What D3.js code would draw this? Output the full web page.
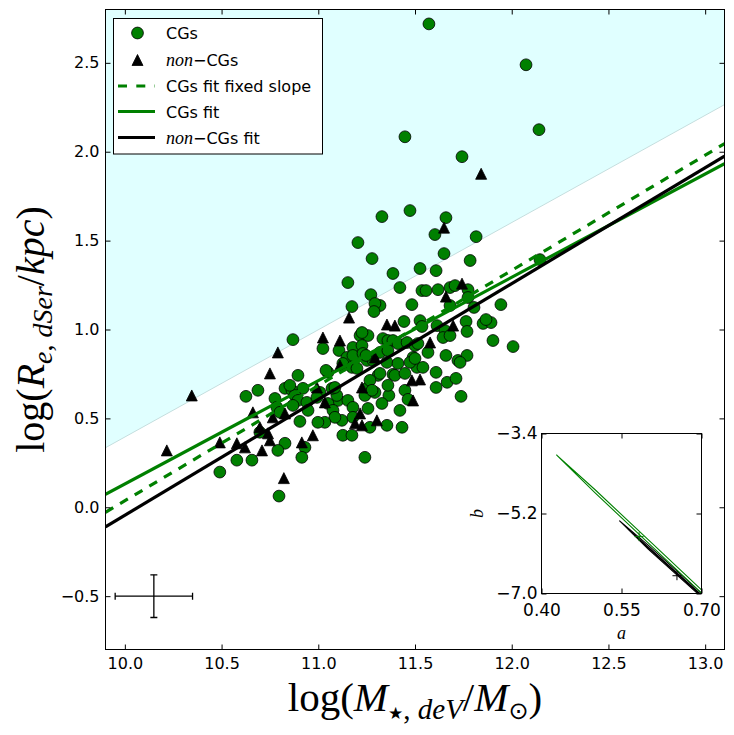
<!DOCTYPE html>
<html><head><meta charset="utf-8">
<script src="https://cdn.jsdelivr.net/npm/d3@7"></script>
<style>body{margin:0;background:#fff}</style>
</head><body>
<svg id="c" width="734" height="735" xmlns="http://www.w3.org/2000/svg"></svg>
<script>
// ---------------- data ----------------
const cgPoints = [
[11.572,2.719],[12.074,2.489],[12.141,2.124],[11.448,2.084],[11.743,1.972],
[11.474,1.669],[11.329,1.635],[11.660,1.629],[11.603,1.534],[11.816,1.522],
[11.205,1.489],[11.650,1.427],[11.278,1.399],[11.785,1.388],[11.386,1.315],
[11.526,1.343],[11.609,1.331],[11.153,1.264],[11.422,1.236],[11.536,1.219],
[11.557,1.219],[11.619,1.224],[11.681,1.236],[11.707,1.247],[11.774,1.224],
[11.774,1.180],[11.681,1.135],[11.805,1.124],[11.944,1.140],[11.484,1.140],
[11.319,1.135],[11.272,1.196],[11.293,1.146],[11.288,1.101],[11.174,1.129],
[11.443,1.045],[11.526,1.050],[11.536,1.017],[11.614,1.022],[11.655,0.994],
[11.764,1.045],[11.769,0.989],[11.852,1.034],[11.893,1.039],[11.867,1.056],
[11.903,0.938],[12.007,0.904],[12.146,1.393],[11.216,0.966],[11.257,0.966],
[11.226,0.983],[11.334,0.949],[11.360,0.938],[11.386,0.938],[11.412,0.921],
[11.459,0.927],[11.500,0.910],[11.515,0.921],[11.567,0.871],[11.645,0.955],
[11.681,0.966],[11.660,0.854],[11.722,0.826],[11.769,0.854],[11.733,0.815],
[11.490,0.843],[11.510,0.787],[11.541,0.787],[11.609,0.759],[11.666,0.703],
[11.712,0.725],[11.609,0.674],[11.738,0.624],[11.386,0.748],[11.309,0.742],
[11.396,0.742],[11.448,0.753],[11.448,0.658],[11.464,0.607],[11.422,0.545],
[11.241,0.629],[11.257,0.674],[11.257,0.556],[11.365,0.629],[11.329,0.584],
[11.360,0.686],[11.293,0.646],[11.267,0.714],[11.278,0.658],[11.319,0.753],
[11.319,0.871],[11.360,0.882],[11.355,0.815],[11.412,0.809],[11.474,0.815],
[11.500,0.837],[11.024,0.893],[11.107,0.882],[11.179,0.899],[11.226,0.910],
[11.148,0.843],[11.179,0.854],[11.231,0.865],[11.252,0.826],[11.127,0.809],
[11.174,0.787],[11.050,0.759],[11.200,0.781],[11.283,0.826],[11.247,0.854],
[10.869,0.943],[10.895,0.742],[11.040,0.770],[10.688,0.658],[10.626,0.624],
[10.828,0.669],[10.864,0.658],[10.921,0.669],[10.776,0.612],[10.879,0.629],
[10.895,0.601],[10.941,0.590],[10.786,0.562],[10.869,0.573],[11.102,0.601],
[11.096,0.629],[11.071,0.669],[11.086,0.674],[11.009,0.646],[11.050,0.584],
[11.153,0.601],[11.179,0.562],[11.076,0.545],[11.122,0.489],[11.086,0.506],
[11.034,0.478],[11.179,0.506],[11.267,0.450],[11.355,0.461],[11.433,0.450],
[11.127,0.405],[11.174,0.405],[10.931,0.337],[10.915,0.281],[11.241,0.281],
[10.905,0.483],[10.998,0.478],[10.698,0.422],[10.828,0.360],[10.791,0.320],
[10.579,0.265],[10.657,0.265],[10.491,0.198],[10.797,0.063],
[10.993,0.618],[10.802,0.534],[10.947,0.545],[10.853,0.686]
];
const nonCgPoints = [
[11.842,1.876],[11.650,1.573],[11.743,1.258],[11.660,1.185],[11.697,1.022],
[11.355,1.028],[11.396,1.022],[11.159,1.067],[11.024,0.955],[11.112,0.938],
[11.578,0.927],[11.293,0.843],[11.112,0.798],[11.526,0.719],[11.484,0.714],
[11.490,0.601],[11.226,0.674],[10.993,0.674],[11.034,0.590],[11.216,0.528],
[11.190,0.472],[11.226,0.461],[11.303,0.489],[10.972,0.405],[10.791,0.871],
[10.750,0.753],[10.346,0.629],[10.662,0.534],[10.217,0.320],[10.491,0.365],
[10.579,0.360],[10.621,0.337],[10.709,0.320],[10.750,0.377],[10.915,0.365],
[10.822,0.164],[10.698,0.450],[10.828,0.528],[10.765,0.506],[10.740,0.416]
];
const xDomain = [9.9, 13.1];
const yDomain = [-0.8, 2.8];
const xTicks = [10.0, 10.5, 11.0, 11.5, 12.0, 12.5, 13.0];
const yTicks = [-0.5, 0.0, 0.5, 1.0, 1.5, 2.0, 2.5];
const shadeLine = [[9.9, 0.335], [13.1, 2.265]];
const cgFit = [[9.9, 0.073], [13.1, 1.933]];
const cgFitFixed = [[9.9, -0.028], [13.1, 2.045]];
const nonCgFit = [[9.9, -0.110], [13.1, 1.975]];
const typicalError = {x: 10.15, y: -0.5, dx: 0.2, dy: 0.12};
const legendLabels = ["CGs", "non−CGs", "CGs fit fixed slope", "CGs fit", "non−CGs fit"];
// inset (a, b) posterior
const insetXDomain = [0.40, 0.70];
const insetYDomain = [-7.0, -3.4];
const insetXTicks = [0.40, 0.55, 0.70];
const insetYTicks = [-3.4, -5.2, -7.0];
const greenContour = [[0.428,-3.88],[0.50,-4.66],[0.60,-5.79],[0.70,-6.92],[0.73,-7.26],[0.70,-6.99],[0.60,-5.86],[0.50,-4.73],[0.428,-3.88]];
const blackOuter = [[0.546,-5.36],[0.60,-5.91],[0.65,-6.45],[0.70,-6.99],[0.74,-7.42],[0.70,-7.08],[0.65,-6.54],[0.60,-6.00],[0.546,-5.36]];
const blackInner = [[0.562,-5.54],[0.60,-5.95],[0.65,-6.49],[0.70,-7.03],[0.72,-7.25],[0.70,-7.06],[0.65,-6.52],[0.60,-5.98],[0.562,-5.54]];
const bestFitMarks = [{a:0.583, b:-5.72, c:"#007a00"}, {a:0.654, b:-6.60, c:"#000"}];

// ---------------- drawing ----------------
const svg = d3.select("#c");
const L = 105.5, R = 724.5, T = 9.5, B = 649.5;
const x = d3.scaleLinear().domain(xDomain).range([L, R]);
const y = d3.scaleLinear().domain(yDomain).range([B, T]);
const GREEN = "#008000";
const sans = "DejaVu Sans, Bitstream Vera Sans, sans-serif";
const serif = "Liberation Serif, Times New Roman, serif";

svg.append("rect").attr("width",734).attr("height",735).attr("fill","#fff");
svg.append("defs").append("clipPath").attr("id","clip")
  .append("rect").attr("x",L).attr("y",T).attr("width",R-L).attr("height",B-T);

const plot = svg.append("g").attr("clip-path","url(#clip)");

// shaded region
const area = d3.area().x(d=>x(d[0])).y0(y(yDomain[1])).y1(d=>y(d[1]));
plot.append("path").datum(shadeLine).attr("d",area).attr("fill","#e0ffff");
plot.append("path").datum(shadeLine).attr("d",d3.line().x(d=>x(d[0])).y(d=>y(d[1])))
  .attr("stroke","#c4dede").attr("stroke-width",1).attr("fill","none");

// error bar
const eb = plot.append("g").attr("stroke","#000").attr("stroke-width",1.3);
const e = typicalError, cap = 3.5;
eb.append("line").attr("x1",x(e.x-e.dx)).attr("x2",x(e.x+e.dx)).attr("y1",y(e.y)).attr("y2",y(e.y));
eb.append("line").attr("x1",x(e.x)).attr("x2",x(e.x)).attr("y1",y(e.y-e.dy)).attr("y2",y(e.y+e.dy));
eb.append("line").attr("x1",x(e.x-e.dx)).attr("x2",x(e.x-e.dx)).attr("y1",y(e.y)-cap).attr("y2",y(e.y)+cap);
eb.append("line").attr("x1",x(e.x+e.dx)).attr("x2",x(e.x+e.dx)).attr("y1",y(e.y)-cap).attr("y2",y(e.y)+cap);
eb.append("line").attr("x1",x(e.x)-cap).attr("x2",x(e.x)+cap).attr("y1",y(e.y-e.dy)).attr("y2",y(e.y-e.dy));
eb.append("line").attr("x1",x(e.x)-cap).attr("x2",x(e.x)+cap).attr("y1",y(e.y+e.dy)).attr("y2",y(e.y+e.dy));

// markers
const triPath = h => `M0,${-h}L${h},${h}L${-h},${h}Z`;
plot.append("g").selectAll("circle").data(cgPoints).join("circle")
  .attr("cx",d=>x(d[0])).attr("cy",d=>y(d[1])).attr("r",5.9)
  .attr("fill",GREEN).attr("stroke","#000").attr("stroke-width",0.8);
plot.append("g").selectAll("path").data(nonCgPoints).join("path")
  .attr("transform",d=>`translate(${x(d[0])},${y(d[1])})`).attr("d",triPath(5.5))
  .attr("fill","#000").attr("stroke","#000").attr("stroke-width",0.8);

// fit lines
const line = d3.line().x(d=>x(d[0])).y(d=>y(d[1]));
plot.append("path").datum(cgFitFixed).attr("d",line).attr("stroke",GREEN).attr("stroke-width",3.2)
  .attr("stroke-dasharray","9,8").attr("fill","none");
plot.append("path").datum(cgFit).attr("d",line).attr("stroke",GREEN).attr("stroke-width",3.2).attr("fill","none");
plot.append("path").datum(nonCgFit).attr("d",line).attr("stroke","#000").attr("stroke-width",3.2).attr("fill","none");

// axes
function styleAxis(size){
  return g => {
    g.select(".domain").remove();
    g.selectAll(".tick line").attr("stroke","#000").attr("stroke-width",1);
    g.selectAll(".tick text").attr("font-family",sans).attr("font-size",size).attr("fill","#000");
  };
}
const fmt1 = d3.format(".1f");
svg.append("g").attr("transform",`translate(0,${B})`)
  .call(d3.axisBottom(x).tickValues(xTicks).tickFormat(fmt1).tickSizeInner(-5).tickSizeOuter(0).tickPadding(8)).call(styleAxis(16));
svg.append("g").attr("transform",`translate(0,${T})`)
  .call(d3.axisTop(x).tickValues(xTicks).tickFormat("").tickSizeInner(-5).tickSizeOuter(0)).call(styleAxis(16));
svg.append("g").attr("transform",`translate(${L},0)`)
  .call(d3.axisLeft(y).tickValues(yTicks).tickFormat(fmt1).tickSizeInner(-5).tickSizeOuter(0).tickPadding(6)).call(styleAxis(16));
svg.append("g").attr("transform",`translate(${R},0)`)
  .call(d3.axisRight(y).tickValues(yTicks).tickFormat("").tickSizeInner(-5).tickSizeOuter(0)).call(styleAxis(16));
svg.append("rect").attr("x",L).attr("y",T).attr("width",R-L).attr("height",B-T)
  .attr("fill","none").attr("stroke","#000").attr("stroke-width",1);

// axis titles
const xl = svg.append("text").attr("x",(L+R)/2).attr("y",711).attr("text-anchor","middle")
  .attr("font-family",serif).attr("font-size",41).attr("fill","#000");
xl.append("tspan").text("log(");
xl.append("tspan").attr("font-style","italic").text("M");
xl.append("tspan").attr("font-family",sans).attr("font-size",17).attr("dy",8).text("★");
xl.append("tspan").attr("font-size",29).text(", ");
xl.append("tspan").attr("font-size",29).attr("font-style","italic").text("deV");
xl.append("tspan").attr("dy",-8).text("/");
xl.append("tspan").attr("font-style","italic").text("M");
xl.append("tspan").attr("font-family",sans).attr("font-size",24).attr("dy",8).text("⊙");
xl.append("tspan").attr("dy",-8).text(")");

const yl = svg.append("text").attr("transform",`translate(44,${(T+B)/2}) rotate(-90)`).attr("text-anchor","middle")
  .attr("font-family",serif).attr("font-size",40).attr("fill","#000");
yl.append("tspan").text("log(");
yl.append("tspan").attr("font-style","italic").text("R");
yl.append("tspan").attr("font-size",28).attr("font-style","italic").attr("dy",8).text("e");
yl.append("tspan").attr("font-size",28).text(", ");
yl.append("tspan").attr("font-size",28).attr("font-style","italic").text("dSer");
yl.append("tspan").attr("dy",-8).text("/");
yl.append("tspan").attr("font-style","italic").text("kpc");
yl.append("tspan").text(")");

// legend
const lg = svg.append("g");
lg.append("rect").attr("x",113.5).attr("y",18.5).attr("width",209).attr("height",135.5)
  .attr("fill","#fff").attr("stroke","#000").attr("stroke-width",1);
const rows = [33, 60, 86, 111.5, 137.5];
const mx = 137.5, lx1 = 118, lx2 = 155, tx = 166;
lg.append("circle").attr("cx",mx).attr("cy",rows[0]).attr("r",5.9).attr("fill",GREEN).attr("stroke","#000").attr("stroke-width",0.8);
lg.append("path").attr("transform",`translate(${mx},${rows[1]})`).attr("d",triPath(5.5)).attr("fill","#000").attr("stroke","#000").attr("stroke-width",0.8);
lg.append("line").attr("x1",lx1).attr("x2",lx2).attr("y1",rows[2]).attr("y2",rows[2]).attr("stroke",GREEN).attr("stroke-width",3.2).attr("stroke-dasharray","9,9.3");
lg.append("line").attr("x1",lx1).attr("x2",lx2).attr("y1",rows[3]).attr("y2",rows[3]).attr("stroke",GREEN).attr("stroke-width",3.2);
lg.append("line").attr("x1",lx1).attr("x2",lx2).attr("y1",rows[4]).attr("y2",rows[4]).attr("stroke","#000").attr("stroke-width",3.2);
legendLabels.forEach((lab,i)=>{
  const t = lg.append("text").attr("x",tx).attr("y",rows[i]+6).attr("font-family",sans).attr("font-size",16).attr("fill","#000");
  if (lab.startsWith("non")) {
    t.append("tspan").attr("font-family",serif).attr("font-style","italic").attr("font-size",18).text("non");
    t.append("tspan").text(lab.slice(3));
  } else t.text(lab);
});

// inset
const IL = 541.5, IR = 701.5, IT = 433.5, IB = 593.5;
const ix = d3.scaleLinear().domain(insetXDomain).range([IL, IR]);
const iy = d3.scaleLinear().domain(insetYDomain).range([IB, IT]);
svg.append("rect").attr("x",IL).attr("y",IT).attr("width",IR-IL).attr("height",IB-IT).attr("fill","#fff");
svg.select("defs").append("clipPath").attr("id","iclip")
  .append("rect").attr("x",IL).attr("y",IT).attr("width",IR-IL).attr("height",IB-IT);
const ig = svg.append("g").attr("clip-path","url(#iclip)");
const iline = d3.line().x(d=>ix(d[0])).y(d=>iy(d[1]));
ig.append("path").datum(blackOuter).attr("d",iline).attr("fill","none").attr("stroke","#000").attr("stroke-width",1.1);
ig.append("path").datum(blackInner).attr("d",iline).attr("fill","none").attr("stroke","#000").attr("stroke-width",1.1);
ig.append("path").datum(greenContour).attr("d",iline).attr("fill","none").attr("stroke",GREEN).attr("stroke-width",1.1);
bestFitMarks.forEach(m=>{
  const cx = ix(m.a), cy = iy(m.b), s = 4.5;
  ig.append("path").attr("d",`M${cx-s},${cy}H${cx+s}M${cx},${cy-s}V${cy+s}`).attr("stroke",m.c).attr("stroke-width",1);
});
svg.append("g").attr("transform",`translate(0,${IB})`)
  .call(d3.axisBottom(ix).tickValues(insetXTicks).tickFormat(d3.format(".2f")).tickSizeInner(-5).tickSizeOuter(0).tickPadding(10)).call(styleAxis(17));
svg.append("g").attr("transform",`translate(0,${IT})`)
  .call(d3.axisTop(ix).tickValues(insetXTicks).tickFormat("").tickSizeInner(-5).tickSizeOuter(0)).call(styleAxis(17));
svg.append("g").attr("transform",`translate(${IL},0)`)
  .call(d3.axisLeft(iy).tickValues(insetYTicks).tickFormat(fmt1).tickSizeInner(-5).tickSizeOuter(0).tickPadding(4)).call(styleAxis(17));
svg.append("g").attr("transform",`translate(${IR},0)`)
  .call(d3.axisRight(iy).tickValues(insetYTicks).tickFormat("").tickSizeInner(-5).tickSizeOuter(0)).call(styleAxis(17));
svg.append("rect").attr("x",IL).attr("y",IT).attr("width",IR-IL).attr("height",IB-IT)
  .attr("fill","none").attr("stroke","#000").attr("stroke-width",1);
svg.append("text").attr("x",(IL+IR)/2).attr("y",639).attr("text-anchor","middle")
  .attr("font-family",serif).attr("font-style","italic").attr("font-size",18).text("a");
svg.append("text").attr("transform",`translate(483,${(IT+IB)/2}) rotate(-90)`).attr("text-anchor","middle")
  .attr("font-family",serif).attr("font-style","italic").attr("font-size",18).text("b");
</script>
</body></html>
